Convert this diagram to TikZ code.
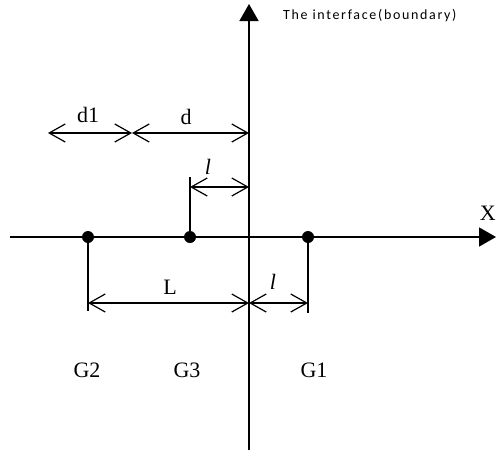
\documentclass[tikz,border=0pt]{standalone}
\usepackage{fontspec}
\setmainfont{Liberation Serif}
\newfontfamily\titlefont[LetterSpace=12]{Carlito}
\usetikzlibrary{arrows.meta,positioning}

\begin{document}
\begin{tikzpicture}[x=1pt, y=-1pt,
        every node/.style={font=\fontsize{22}{24}\selectfont, inner sep=0pt},
        axis/.style={line width=1.6pt, -{Triangle[length=17pt,width=19pt]}},
        dot/.style={circle, fill=black, minimum size=12pt},
        ext/.style={line width=1.3pt},
        dim/.style={line width=1.2pt,
                {Straight Barb[length=16pt,width=18pt]}-{Straight Barb[length=16pt,width=18pt]}}
        ]
        \useasboundingbox (0,0) rectangle (497,455);

        % ---------------- Axes ----------------
        \coordinate (ybot)   at (249,450);
        \coordinate (ytop)   at (249,4);
        \coordinate (xleft)  at (10,237);
        \coordinate (xright) at (496,237);
        \draw[axis] (ybot) -- (ytop);
        \draw[axis] (xleft) -- (xright);
        \node[anchor=east] (xlabel) at (496,213) {X};
        \node[anchor=west, font=\titlefont\fontsize{14}{16}\selectfont] (title) at (283,16) {The interface(boundary)};

        % ---------------- Points on the axis ----------------
        \node[dot] (g2) at (88,237)  {};
        \node[dot] (g3) at (190,237) {};
        \node[dot] (g1) at (308,237) {};
        \node (g2label) at (87,370)  {G2};
        \node (g3label) at (187,370) {G3};
        \node (g1label) at (314,370) {G1};

        % ---------------- Extension lines ----------------
        \coordinate (g3top) at (190,177);
        \coordinate (g2bot) at (88,311);
        \coordinate (g1bot) at (308,313);
        \draw[ext] (g3.center) -- (g3top);
        \draw[ext] (g2.center) -- (g2bot);
        \draw[ext] (g1.center) -- (g1bot);

        % ---------------- Dimensions above ----------------
        \coordinate (d1left)  at (48,133);
        \coordinate (d1right) at (132,133);
        \coordinate (dright)  at (249,133);
        \coordinate (ltopleft)  at (190,187);
        \coordinate (ltopright) at (249,187);
        \draw[dim] (d1left) -- (d1right);
        \draw[dim] (d1right) -- (dright);
        \draw[dim] (ltopleft) -- (ltopright);
        \node (d1label) at (88,115)  {d1};
        \node (dlabel)  at (186,117) {d};
        \node (ltop)    at (208,167) {\textit{l}};

        % ---------------- Dimensions below ----------------
        \coordinate (Lleft)  at (88,303);
        \coordinate (Lright) at (249,303);
        \coordinate (lbotright) at (308,303);
        \draw[dim] (Lleft) -- (Lright);
        \draw[dim] (Lright) -- (lbotright);
        \node (Llabel) at (170,287) {L};
        \node (lbot)   at (273,282) {\textit{l}};

\end{tikzpicture}
\end{document}
